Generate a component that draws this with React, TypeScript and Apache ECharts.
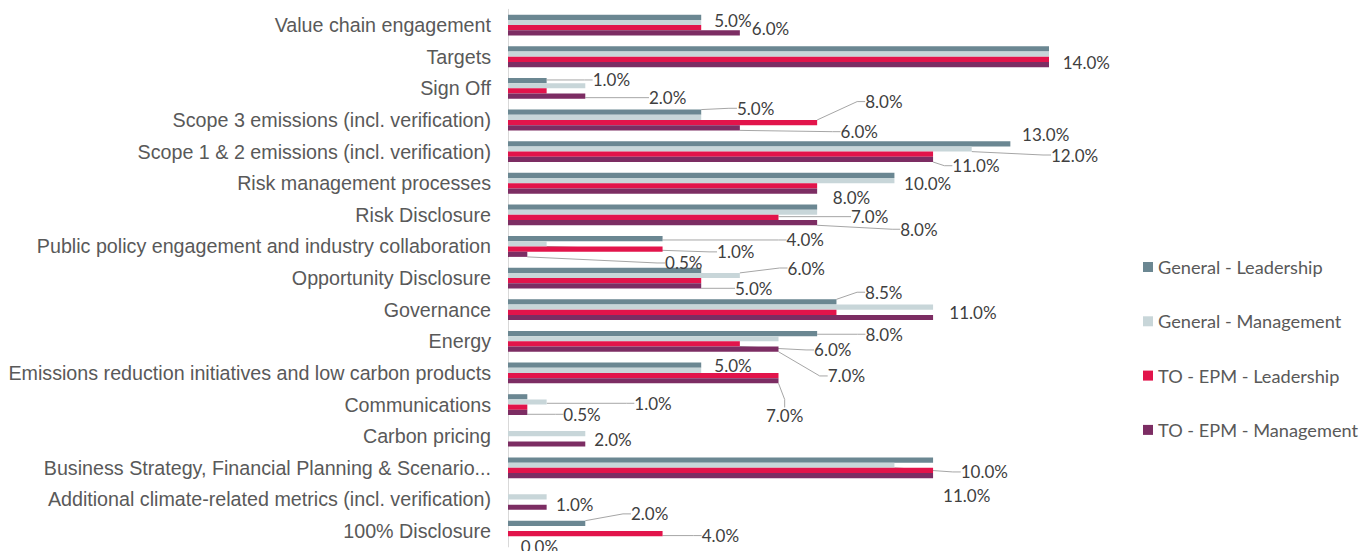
import React, { useEffect, useRef } from "react";
import * as echarts from "echarts";

const categories = [
  "Value chain engagement",
  "Targets",
  "Sign Off",
  "Scope 3 emissions (incl. verification)",
  "Scope 1 & 2 emissions (incl. verification)",
  "Risk management processes",
  "Risk Disclosure",
  "Public policy engagement and industry collaboration",
  "Opportunity Disclosure",
  "Governance",
  "Energy",
  "Emissions reduction initiatives and low carbon products",
  "Communications",
  "Carbon pricing",
  "Business Strategy, Financial Planning & Scenario...",
  "Additional climate-related metrics (incl. verification)",
  "100% Disclosure",
];

const seriesNames = [
  "General - Leadership",
  "General - Management",
  "TO - EPM - Leadership",
  "TO - EPM - Management",
];

const generalLeadership = [5, 14, 1, 5, 13, 10, 8, 4, 5, 8.5, 8, 5, 0.5, 0, 11, 0, 2];
const generalManagement = [5, 14, 2, 5, 12, 10, 8, 1, 6, 11, 7, 5, 1, 2, 10, 1, 0];
const toEpmLeadership = [5, 14, 1, 8, 11, 8, 7, 4, 5, 8.5, 6, 7, 0.5, 0, 11, 0, 4];
const toEpmManagement = [6, 14, 2, 6, 11, 8, 8, 0.5, 5, 11, 7, 7, 0.5, 2, 11, 1, 0];

const seriesValues = [generalLeadership, generalManagement, toEpmLeadership, toEpmManagement];
const colors = ["#6b8792", "#c8d6d9", "#e2144b", "#7c2d63"];

// label placement (styling): category index -> [dx, dy, leaderLine]
const labelPlacement: Record<number, [number, number, boolean]>[] = [
  {
    0: [8, 2.7, false],
    2: [41, -0.6, true],
    3: [30.7, -3.9, true],
    4: [6.7, -9.5, false],
    7: [119, 1.3, true],
    9: [23.6, -9.7, true],
    10: [43.3, 0.7, true],
    11: [8.1, 0.8, false],
    16: [40.7, -9.4, true],
  },
  {
    4: [74.3, 6, true],
    5: [4.6, 2.7, false],
    7: [165.4, 8, true],
    8: [42.7, -7.5, true],
    12: [82.7, 1.3, true],
    13: [4, 5.6, false],
    14: [61.3, 6.7, true],
  },
  {
    3: [43, -21, true],
    6: [67.5, -0.8, true],
    10: [69.2, 6, true],
    16: [34.1, 1.9, true],
  },
  {
    0: [7, -4.6, false],
    1: [8.7, -1.8, false],
    2: [58.7, 1.5, true],
    3: [95.7, 3.9, true],
    4: [14.3, 6.3, true],
    5: [10.7, 6.3, false],
    6: [78, 6.6, true],
    7: [132.7, 8.7, true],
    8: [28.8, 2.4, true],
    9: [11.3, -4.9, false],
    10: [44.2, 26.8, true],
    11: [-17.5, 35.2, true],
    12: [31, 1.9, true],
    14: [5, 19.7, false],
    15: [4.4, -2.4, false],
    16: [7.7, 8, false],
  },
];

export default function App() {
  const ref = useRef<HTMLDivElement>(null);

  useEffect(() => {
    document.body.style.margin = "0";
    if (!ref.current) return;
    const chart = echarts.init(ref.current, undefined, { renderer: "svg" });

    const series = seriesNames.map((name, si) => {
      const place = labelPlacement[si];
      return {
        name,
        type: "bar",
        barWidth: 5.2,
        barGap: "0%",
        itemStyle: { color: colors[si] },
        label: {
          show: false,
          position: "right",
          distance: 5,
          fontFamily: "Lato",
          fontSize: 17,
          color: "#404040",
          formatter: (p: any) => `${Number(p.value).toFixed(1)}%`,
        },
        labelLine: {
          show: false,
          length2: 8,
          lineStyle: { color: "#a6a6a6", width: 1 },
        },
        labelLayout: (p: any) => {
          const o = place[p.dataIndex];
          return o ? { dx: o[0], dy: o[1] } : {};
        },
        data: seriesValues[si].map((v, i) => ({
          value: v,
          label: { show: !!place[i] },
          labelLine: { show: !!(place[i] && place[i][2]) },
        })),
      };
    });

    chart.setOption({
      animation: false,
      backgroundColor: "#ffffff",
      grid: { left: 508, top: 9.3, width: 541, height: 537.6, containLabel: false },
      legend: {
        orient: "vertical",
        left: 1143,
        top: 257,
        padding: 0,
        itemWidth: 10,
        itemHeight: 10,
        itemGap: 34.3,
        icon: "rect",
        textStyle: { fontFamily: "Lato", fontSize: 18.2, color: "#595959", lineHeight: 20 },
        data: seriesNames,
      },
      xAxis: {
        type: "value",
        min: 0,
        max: 14,
        show: false,
      },
      yAxis: {
        type: "category",
        inverse: true,
        data: categories,
        axisLine: { show: true, lineStyle: { color: "#d9d9d9", width: 1 } },
        axisTick: { show: false },
        axisLabel: {
          margin: 17,
          fontFamily: "Liberation Sans, Arial",
          fontSize: 19.7,
          color: "#595959",
        },
      },
      series,
    });

    return () => chart.dispose();
  }, []);

  return <div ref={ref} style={{ width: 1372, height: 551 }} />;
}
